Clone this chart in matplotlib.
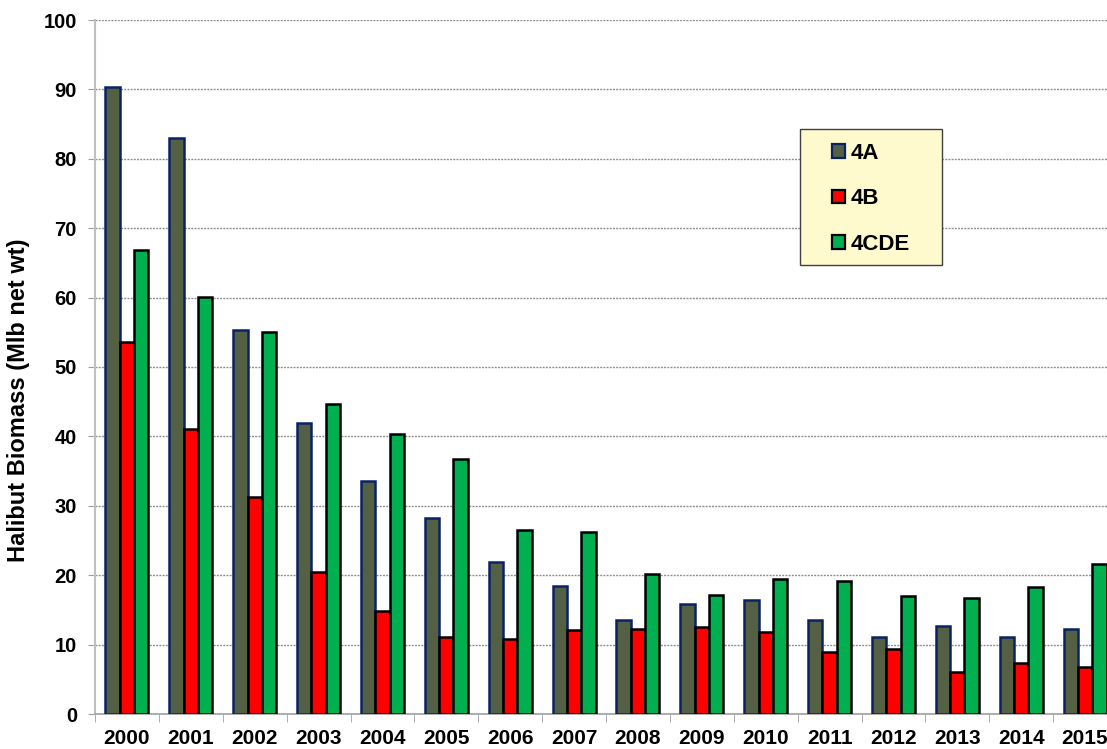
import matplotlib
matplotlib.use("Agg")
import matplotlib.pyplot as plt
import numpy as np
from matplotlib.patches import Patch, Rectangle

years = [str(y) for y in range(2000, 2016)]
series_names = ["4A", "4B", "4CDE"]
vals_4A = [90.3, 83.0, 55.3, 42.0, 33.6, 28.2, 21.9, 18.5, 13.6, 15.8, 16.4, 13.6, 11.1, 12.7, 11.1, 12.2]
vals_4B = [53.6, 41.0, 31.3, 20.4, 14.9, 11.1, 10.8, 12.1, 12.3, 12.5, 11.8, 8.9, 9.4, 6.1, 7.3, 6.8]
vals_4CDE = [66.9, 60.1, 55.0, 44.7, 40.3, 36.7, 26.5, 26.2, 20.2, 17.2, 19.5, 19.2, 17.0, 16.7, 18.3, 21.6]
y_ticks = list(range(0, 101, 10))

face_colors = ["#536043", "#FF0000", "#00B050"]
edge_colors = ["#0A2263", "#000000", "#000000"]

plt.rcParams['font.family'] = ['Liberation Sans', 'DejaVu Sans']

W, H = 1107, 749
fig = plt.figure(figsize=(W / 100, H / 100), dpi=100)
ax = fig.add_axes([95 / W, (H - 714) / H, (1117 - 95) / W, (714 - 20) / H])

x = np.arange(len(years))
bw = 0.225
for k, (vals, fc, ec, name) in enumerate(zip([vals_4A, vals_4B, vals_4CDE], face_colors, edge_colors, series_names)):
    ax.bar(x + (k - 1) * bw, vals, width=bw, color=fc, edgecolor=ec, linewidth=1.8,
           label=name, zorder=3)

ax.set_xlim(-0.5, len(years) - 0.5)
ax.set_ylim(0, 100)
ax.set_yticks(y_ticks)
ax.set_yticklabels([str(t) for t in y_ticks], fontsize=14.5, fontweight='bold')
ax.set_xticks(x)
ax.set_xticklabels(years, fontsize=15, fontweight='bold')
ax.set_xticks(np.arange(-0.5, len(years), 1.0), minor=True)
ax.tick_params(axis='x', which='major', length=0, pad=11)
ax.tick_params(axis='x', which='minor', length=6, color='#a0a0a0', direction='out')
ax.tick_params(axis='y', which='major', length=5, color='#a0a0a0', direction='out', pad=8)

ax.set_axisbelow(True)
ax.yaxis.grid(True, linestyle=(0, (1.4, 0.9)), color='#8c8c8c', linewidth=1.0)
for s in ['top', 'right']:
    ax.spines[s].set_visible(False)
ax.spines['left'].set_color('#c0c0c0')
ax.spines['left'].set_linewidth(1.5)
ax.spines['bottom'].set_color('#a0a0a0')
ax.spines['bottom'].set_linewidth(1.2)

ax.set_ylabel("Halibut Biomass (Mlb net wt)", fontsize=17, fontweight='bold')
ax.yaxis.set_label_coords(-0.064, 0.452)

# legend box
box = Rectangle((800 / W, 1 - 265 / H), 142.3 / W, 135.7 / H, transform=fig.transFigure,
                facecolor='#FFFACD', edgecolor='#404040', linewidth=1.0, zorder=5)
fig.patches.append(box)
handles = [Patch(facecolor=fc, edgecolor=ec, linewidth=1.6) for fc, ec in zip(face_colors, edge_colors)]
leg = fig.legend(handles, series_names, loc='upper left', bbox_to_anchor=(832 / W, 1 - 143 / H),
                 frameon=False, borderpad=0, borderaxespad=0, handlelength=0.57, handleheight=0.57,
                 handletextpad=0.25, labelspacing=1.1, prop={'size': 16, 'weight': 'bold'})
leg.set_zorder(6)

fig.savefig("out.png", dpi=100)
